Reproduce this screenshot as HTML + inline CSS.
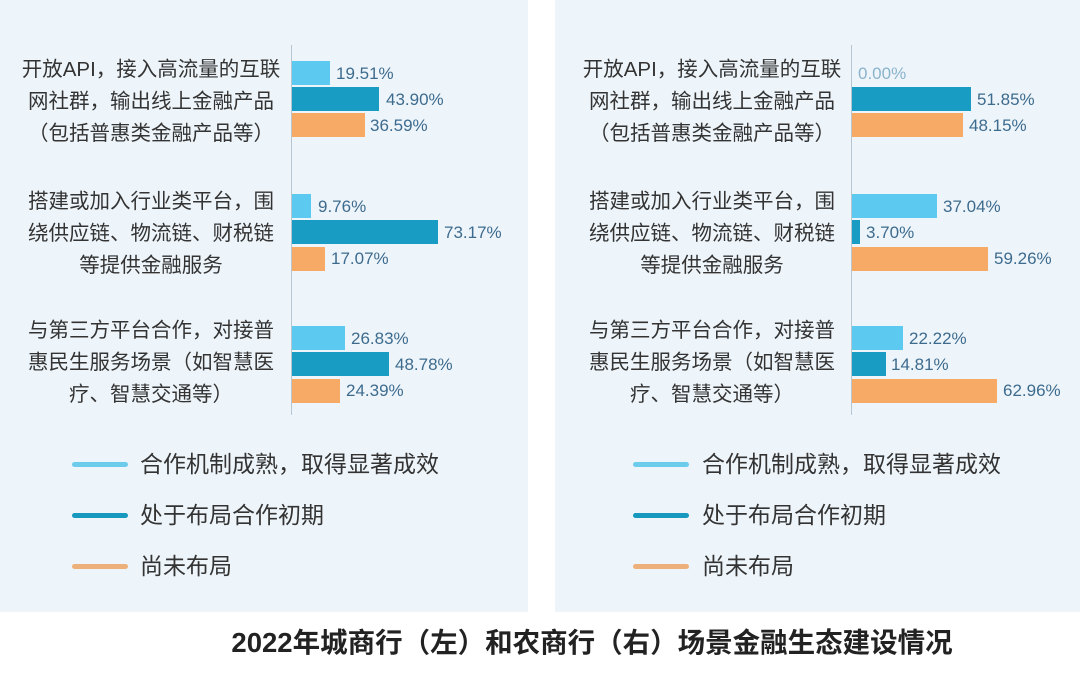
<!DOCTYPE html>
<html><head><meta charset="utf-8"><style>
body{margin:0;width:1080px;height:696px;background:#fff;position:relative;overflow:hidden;font-family:"Liberation Sans","Noto Sans CJK SC",sans-serif}
.p{position:absolute;top:0;height:612px;background:#eef5fa}
.a{position:absolute;width:1px;background:#b9c6cf;top:45px;height:370px}
.b{position:absolute;height:24px}
.l{background:#5cc9f0}.d{background:#189cc3}.o{background:#f6aa66}
.v{position:absolute;font-size:17px;color:#3d6b8e;line-height:24px}
.t{position:absolute;font-size:20.5px;color:#333;text-align:center;line-height:32px;width:300px}
.lg{position:absolute;height:5px;width:56px;border-radius:3px}
.lt{position:absolute;font-size:23px;color:#333;line-height:26px}
</style></head><body>
<div class="p" style="left:0;width:528px"></div>
<div class="p" style="left:555px;width:525px"></div>
<div class="a" style="left:291px"></div>
<div class="a" style="left:851px"></div>

<div class="t" style="left:1px;top:54px">开放API，接入高流量的互联<br>网社群，输出线上金融产品<br>（包括普惠类金融产品等）</div>
<div class="t" style="left:1px;top:186px">搭建或加入行业类平台，围<br>绕供应链、物流链、财税链<br>等提供金融服务</div>
<div class="t" style="left:1px;top:315px">与第三方平台合作，对接普<br>惠民生服务场景（如智慧医<br>疗、智慧交通等）</div>

<div class="t" style="left:562px;top:54px">开放API，接入高流量的互联<br>网社群，输出线上金融产品<br>（包括普惠类金融产品等）</div>
<div class="t" style="left:562px;top:186px">搭建或加入行业类平台，围<br>绕供应链、物流链、财税链<br>等提供金融服务</div>
<div class="t" style="left:562px;top:315px">与第三方平台合作，对接普<br>惠民生服务场景（如智慧医<br>疗、智慧交通等）</div>

<div class="b l" style="left:292px;top:61px;width:38px"></div><div class="v" style="left:336px;top:62px">19.51%</div>
<div class="b d" style="left:292px;top:87px;width:87px"></div><div class="v" style="left:386px;top:88px">43.90%</div>
<div class="b o" style="left:292px;top:113px;width:73px"></div><div class="v" style="left:370px;top:114px">36.59%</div>
<div class="b l" style="left:292px;top:194px;width:19px"></div><div class="v" style="left:318px;top:195px">9.76%</div>
<div class="b d" style="left:292px;top:220px;width:146px"></div><div class="v" style="left:444px;top:221px">73.17%</div>
<div class="b o" style="left:292px;top:247px;width:33px"></div><div class="v" style="left:331px;top:247px">17.07%</div>
<div class="b l" style="left:292px;top:326px;width:53px"></div><div class="v" style="left:351px;top:327px">26.83%</div>
<div class="b d" style="left:292px;top:352px;width:97px"></div><div class="v" style="left:395px;top:353px">48.78%</div>
<div class="b o" style="left:292px;top:379px;width:48px"></div><div class="v" style="left:346px;top:379px">24.39%</div>

<div class="v" style="left:858px;top:62px;color:#8ab3cc">0.00%</div>
<div class="b d" style="left:852px;top:87px;width:119px"></div><div class="v" style="left:977px;top:88px">51.85%</div>
<div class="b o" style="left:852px;top:113px;width:111px"></div><div class="v" style="left:969px;top:114px">48.15%</div>
<div class="b l" style="left:852px;top:194px;width:85px"></div><div class="v" style="left:943px;top:195px">37.04%</div>
<div class="b d" style="left:852px;top:220px;width:8px"></div><div class="v" style="left:866px;top:221px">3.70%</div>
<div class="b o" style="left:852px;top:247px;width:136px"></div><div class="v" style="left:994px;top:247px">59.26%</div>
<div class="b l" style="left:852px;top:326px;width:51px"></div><div class="v" style="left:909px;top:327px">22.22%</div>
<div class="b d" style="left:852px;top:352px;width:34px"></div><div class="v" style="left:891px;top:353px">14.81%</div>
<div class="b o" style="left:852px;top:379px;width:145px"></div><div class="v" style="left:1003px;top:379px">62.96%</div>

<div class="lg" style="left:72px;top:462px;background:#6dcbeb"></div><div class="lt" style="left:140px;top:451px">合作机制成熟，取得显著成效</div>
<div class="lg" style="left:72px;top:513px;background:#1798bf"></div><div class="lt" style="left:140px;top:502px">处于布局合作初期</div>
<div class="lg" style="left:72px;top:564px;background:#eeb07a"></div><div class="lt" style="left:140px;top:553px">尚未布局</div>
<div class="lg" style="left:633px;top:462px;background:#6dcbeb"></div><div class="lt" style="left:702px;top:451px">合作机制成熟，取得显著成效</div>
<div class="lg" style="left:633px;top:513px;background:#1798bf"></div><div class="lt" style="left:702px;top:502px">处于布局合作初期</div>
<div class="lg" style="left:633px;top:564px;background:#eeb07a"></div><div class="lt" style="left:702px;top:553px">尚未布局</div>

<div style="position:absolute;left:0;width:1080px;top:627px;text-align:center;font-size:27.5px;font-weight:bold;color:#222;line-height:32px;padding-left:104px;box-sizing:border-box">2022年城商行（左）和农商行（右）场景金融生态建设情况</div>
</body></html>
